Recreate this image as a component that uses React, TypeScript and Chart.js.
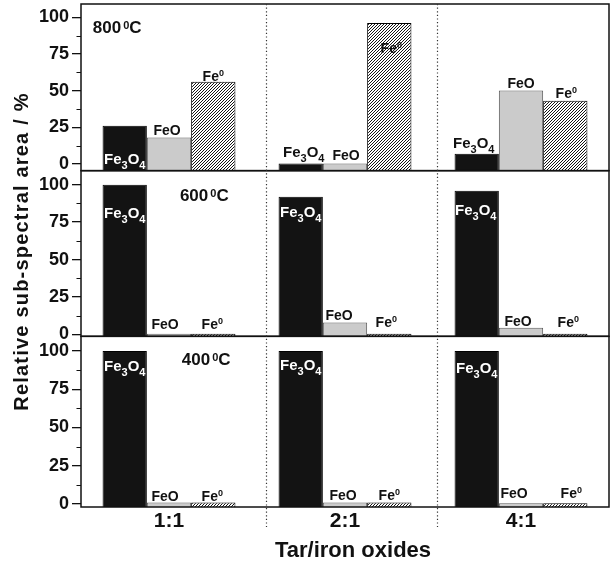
import React, { useEffect, useRef } from 'react';
import { Chart, registerables } from 'chart.js';

Chart.register(...registerables);

// ---- data ----
const categories = ['1:1', '2:1', '4:1'];
const yTickValues = [0, 25, 50, 75, 100];
const yMinorTickValues = [12.5, 37.5, 62.5, 87.5];
const seriesKeys = ['Fe3O4', 'FeO', 'Fe0'];

// 800 °C
const fe3o4At800 = [26, 0.3, 7];
const feoAt800 = [18, 0.3, 50];
const fe0At800 = [56, 96, 43];
// 600 °C
const fe3o4At600 = [100, 92, 96];
const feoAt600 = [0.5, 8, 4.5];
const fe0At600 = [0.4, 0.4, 0.4];
// 400 °C
const fe3o4At400 = [100, 100, 100];
const feoAt400 = [1, 1, 0.5];
const fe0At400 = [1, 1, 0.5];

const xTitle = 'Tar/iron oxides';
const yTitle = 'Relative sub-spectral area / %';

const FONT = "'Liberation Sans', Arial, Helvetica, sans-serif";
const INK = '#111';

// panels from bottom to top (axis registration order puts the last one on top)
const panels = [
  { id: 'y400', temp: '400', min: -2, max: 109.6, weight: 170, series: [fe3o4At400, feoAt400, fe0At400], tempPos: [0.073, 90.6] },
  { id: 'y600', temp: '600', min: -1.3, max: 109.4, weight: 165, series: [fe3o4At600, feoAt600, fe0At600], tempPos: [0.062, 88.8] },
  { id: 'y800', temp: '800', min: -4.6, max: 109, weight: 166, series: [fe3o4At800, feoAt800, fe0At800], tempPos: [-0.433, 89] },
];

// label placement: [anchor, dx, dy] relative to bar top ('top') or to the zero line ('zero')
const labelLayout: Record<string, Record<string, [string, number, number][]>> = {
  y800: {
    Fe3O4: [['zero', 0, 0], ['top', 3, -6], ['top', -3, -6]],
    FeO: [['top', -2, -3], ['top', 1, -3], ['top', 0, -3]],
    Fe0: [['top', 0, -1], ['top', 2, 30], ['top', 1, -3]],
  },
  y600: {
    Fe3O4: [['top', 0, 33], ['top', 0, 20], ['top', -1, 24]],
    FeO: [['top', -4, -5], ['top', -6, -2], ['top', -3, -2]],
    Fe0: [['top', -1, -5], ['top', -3, -7], ['top', 3, -7]],
  },
  y400: {
    Fe3O4: [['top', 0, 20], ['top', 0, 19], ['top', 0, 22]],
    FeO: [['top', -4, -1], ['top', -2, -2], ['top', -7, -5]],
    Fe0: [['top', -1, -1], ['top', 0, -2], ['top', 6, -5]],
  },
};

const separatorPositions = [0.55, 1.52];

type Part = { text?: string; size?: number; dy?: number; gap?: number };

const labelParts: Record<string, Part[]> = {
  Fe3O4: [
    { text: 'Fe', size: 15 },
    { text: '3', size: 11, dy: 5 },
    { text: 'O', size: 15 },
    { text: '4', size: 11, dy: 5 },
  ],
  FeO: [{ text: 'FeO', size: 14 }],
  Fe0: [
    { text: 'Fe', size: 14 },
    { text: '0', size: 9, dy: -5 },
  ],
};

function partsWidth(ctx: CanvasRenderingContext2D, parts: Part[]) {
  let w = 0;
  for (const p of parts) {
    if (p.gap) { w += p.gap; continue; }
    ctx.font = `bold ${p.size}px ${FONT}`;
    w += ctx.measureText(p.text || '').width;
  }
  return w;
}

function drawParts(ctx: CanvasRenderingContext2D, parts: Part[], x: number, baseY: number, color: string, align: 'center' | 'left') {
  let cx = align === 'center' ? x - partsWidth(ctx, parts) / 2 : x;
  ctx.fillStyle = color;
  ctx.textAlign = 'left';
  ctx.textBaseline = 'alphabetic';
  for (const p of parts) {
    if (p.gap) { cx += p.gap; continue; }
    ctx.font = `bold ${p.size}px ${FONT}`;
    ctx.fillText(p.text || '', cx, baseY + (p.dy || 0));
    cx += ctx.measureText(p.text || '').width;
  }
}

function makeHatch(): CanvasPattern | string {
  const c = document.createElement('canvas');
  c.width = 3;
  c.height = 3;
  const g = c.getContext('2d');
  if (!g) return '#888';
  const img = g.createImageData(3, 3);
  for (let y = 0; y < 3; y++) {
    for (let x = 0; x < 3; x++) {
      const i = (y * 3 + x) * 4;
      const on = (x + y) % 3 === 2;
      const v = on ? 20 : 255;
      img.data[i] = v; img.data[i + 1] = v; img.data[i + 2] = v; img.data[i + 3] = 255;
    }
  }
  g.putImageData(img, 0, 0);
  return g.createPattern(c, 'repeat') || '#888';
}

const decorPlugin = {
  id: 'panelDecor',
  afterDatasetsDraw(chart: any) {
    const ctx: CanvasRenderingContext2D = chart.ctx;
    const area = chart.chartArea;
    const xScale = chart.scales.x;
    ctx.save();

    // panel frames and minor ticks
    panels.forEach((p) => {
      const s = chart.scales[p.id];
      ctx.strokeStyle = INK;
      ctx.lineWidth = 1.5;
      ctx.strokeRect(area.left, s.top, area.right - area.left, s.bottom - s.top);
      ctx.lineWidth = 1.2;
      ctx.beginPath();
      yMinorTickValues.forEach((v) => {
        const y = Math.round(s.getPixelForValue(v)) + 0.5;
        ctx.moveTo(area.left, y);
        ctx.lineTo(area.left - 4.5, y);
      });
      ctx.stroke();
    });

    // dotted separators between ratio groups
    ctx.strokeStyle = '#333';
    ctx.lineWidth = 1.2;
    ctx.setLineDash([1.2, 2.4]);
    separatorPositions.forEach((pos) => {
      const x = Math.round(xScale.getPixelForValue(pos)) + 0.5;
      ctx.beginPath();
      ctx.moveTo(x, area.top);
      ctx.lineTo(x, area.bottom + 20);
      ctx.stroke();
    });
    ctx.setLineDash([]);

    // bar labels
    let dsIndex = 0;
    panels.forEach((p) => {
      const s = chart.scales[p.id];
      seriesKeys.forEach((key) => {
        const meta = chart.getDatasetMeta(dsIndex);
        meta.data.forEach((el: any, i: number) => {
          const [anchor, dx, dy] = labelLayout[p.id][key][i];
          const refY = anchor === 'zero' ? s.getPixelForValue(0) : el.y;
          const inside = key === 'Fe3O4' && (anchor === 'zero' || dy > 0);
          drawParts(ctx, labelParts[key], el.x + dx, refY + dy, inside ? '#fff' : INK, 'center');
        });
        dsIndex++;
      });

      // temperature tag
      const tx = xScale.getPixelForValue(p.tempPos[0]);
      const ty = s.getPixelForValue(p.tempPos[1]);
      drawParts(ctx, [
        { text: p.temp, size: 17 },
        { gap: 2 },
        { text: '0', size: 11, dy: -4 },
        { text: 'C', size: 17 },
      ], tx, ty, INK, 'left');
    });

    // axis titles
    ctx.fillStyle = INK;
    ctx.font = `bold 22px ${FONT}`;
    ctx.textAlign = 'center';
    ctx.textBaseline = 'alphabetic';
    ctx.fillText(xTitle, 353, 557);

    ctx.save();
    ctx.translate(27.5, 251.5);
    ctx.rotate(-Math.PI / 2);
    ctx.font = `bold 20px ${FONT}`;
    (ctx as any).letterSpacing = '1.2px';
    ctx.fillText(yTitle, 0, 0);
    ctx.restore();

    ctx.restore();
  },
};

export default function App() {
  const canvasRef = useRef<HTMLCanvasElement | null>(null);

  useEffect(() => {
    const canvas = canvasRef.current;
    if (!canvas) return;
    const hatch = makeHatch();
    const fills = ['#131313', '#cbcbcb', hatch];
    const borders = ['#000', '#5a5a5a', '#000'];

    const datasets: any[] = [];
    panels.forEach((p) => {
      seriesKeys.forEach((key, si) => {
        datasets.push({
          label: `${key} ${p.temp}`,
          data: p.series[si],
          yAxisID: p.id,
          stack: key,
          base: p.min,
          backgroundColor: fills[si],
          borderColor: borders[si],
          borderWidth: 1,
          barPercentage: 1,
          categoryPercentage: 0.755,
        });
      });
    });

    const scales: any = {
      x: {
        type: 'category',
        stacked: true,
        offset: true,
        grid: { display: false, drawTicks: false },
        border: { display: false },
        ticks: { color: INK, font: { family: FONT, size: 21, weight: 'bold' }, padding: 2, maxRotation: 0 },
        afterFit: (s: any) => { s.height = 57; },
      },
    };
    panels.forEach((p) => {
      scales[p.id] = {
        type: 'linear',
        position: 'left',
        stack: 'panels',
        stackWeight: p.weight,
        stacked: false,
        min: p.min,
        max: p.max,
        afterBuildTicks: (s: any) => { s.ticks = yTickValues.map((v) => ({ value: v })); },
        afterFit: (s: any) => { s.width = 81; s.paddingTop = 0; s.paddingBottom = 0; },
        grid: { display: true, drawOnChartArea: false, drawTicks: true, tickLength: 9, color: INK, lineWidth: 1.3 },
        border: { display: false },
        ticks: { color: INK, font: { family: FONT, size: 18, weight: 'bold' }, padding: 3, autoSkip: false },
      };
    });

    const chart = new Chart(canvas, {
      type: 'bar',
      data: { labels: categories, datasets },
      options: {
        responsive: false,
        devicePixelRatio: 1,
        animation: false,
        layout: { padding: { top: 4, right: 1, left: 0, bottom: 0 } },
        plugins: { legend: { display: false }, tooltip: { enabled: false } },
        scales,
      },
      plugins: [decorPlugin],
    } as any);

    return () => chart.destroy();
  }, []);

  return (
    <div style={{ position: 'fixed', left: 0, top: 0, width: 610, height: 564, background: '#fff' }}>
      <canvas ref={canvasRef} width={610} height={564} style={{ width: 610, height: 564, display: 'block' }} />
    </div>
  );
}
